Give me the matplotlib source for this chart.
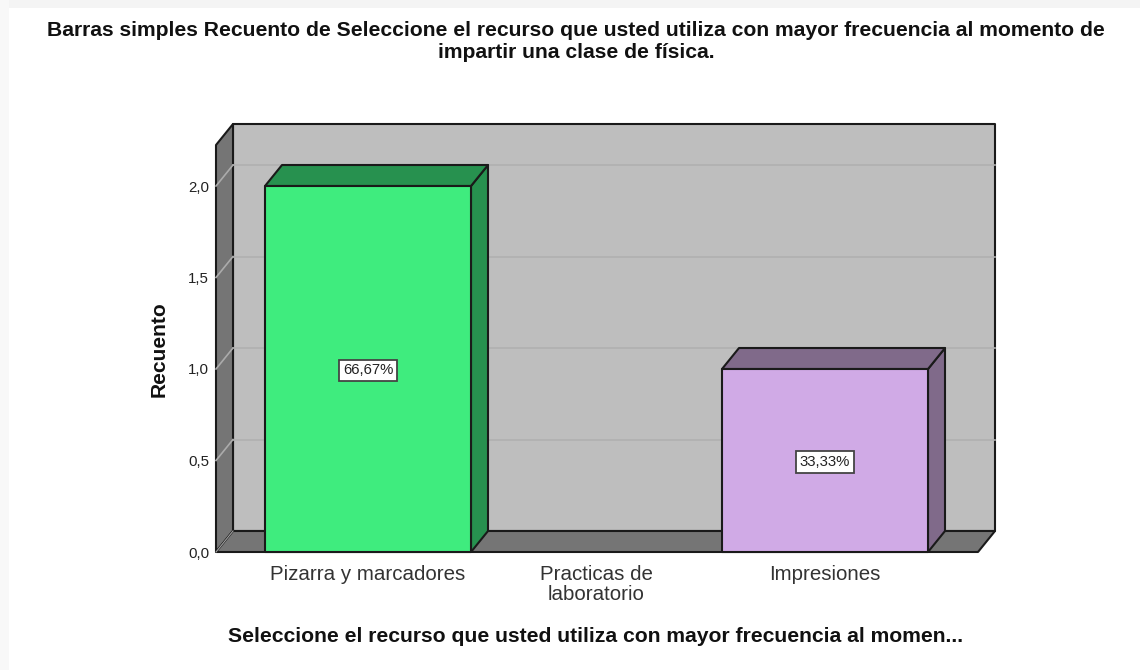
import matplotlib
matplotlib.use('Agg')
import matplotlib.pyplot as plt
from matplotlib.patches import Polygon, Rectangle

plt.rcParams['font.family'] = ['Liberation Sans', 'DejaVu Sans']

categories = ['Pizarra y marcadores', 'Practicas de\nlaboratorio', 'Impresiones']
counts = [2, 0, 1]
percent_labels = ['66,67%', '', '33,33%']
y_ticks = [0.0, 0.5, 1.0, 1.5, 2.0]
y_tick_labels = ['0,0', '0,5', '1,0', '1,5', '2,0']
bar_colors = ['#3FEC7E', None, '#D0AAE6']
side_colors = ['#27914F', None, '#806A8A']

title = ('Barras simples Recuento de Seleccione el recurso que usted utiliza con mayor frecuencia al momento de\n'
         'impartir una clase de física.')
x_title = 'Seleccione el recurso que usted utiliza con mayor frecuencia al momen...'

W, H = 1140, 670
fig = plt.figure(figsize=(W / 100, H / 100), dpi=100, facecolor='white')

# pale window edge along the top and left of the screenshot
fig.patches.append(Rectangle((0, 1 - 8 / H), 1, 8 / H, transform=fig.transFigure, fc='#F4F4F4', ec='none'))
fig.patches.append(Rectangle((0, 0), 9 / W, 1, transform=fig.transFigure, fc='#F8F8F8', ec='none'))

# axes = front plane of the fake 3D box
left, right, bottom, top = 216, 978, 552, 145
ax = fig.add_axes([left / W, 1 - bottom / H, (right - left) / W, (bottom - top) / H])
px_per_cat = 228.5
px_per_unit = 183.0
xmin = -(368 - left) / px_per_cat
xmax = xmin + (right - left) / px_per_cat
ymax = (bottom - top) / px_per_unit
ax.set_xlim(xmin, xmax)
ax.set_ylim(0, ymax)
dx = 17 / px_per_cat
dy = 21 / px_per_unit
bar_w = 206 / px_per_cat
edge = '#1A1A1A'


def poly(pts, fc, ec=edge, lw=1.5, z=1):
    ax.add_patch(Polygon(pts, closed=True, fc=fc, ec=ec, lw=lw, zorder=z, clip_on=False, joinstyle='round'))


# walls and floor
poly([(xmin + dx, dy), (xmax + dx, dy), (xmax + dx, ymax + dy), (xmin + dx, ymax + dy)], '#BEBEBE')
poly([(xmin, 0), (xmin + dx, dy), (xmin + dx, ymax + dy), (xmin, ymax)], '#757575')
poly([(xmin, 0), (xmax, 0), (xmax + dx, dy), (xmin + dx, dy)], '#757575', z=1.5)

# gridlines run across the back wall and down the side wall
for v in y_ticks:
    if v > 0:
        ax.plot([xmin + dx, xmax + dx], [v + dy, v + dy], color='#B0B0B0', lw=1.2, zorder=2, clip_on=False)
        ax.plot([xmin, xmin + dx], [v, v + dy], color='#ABABAB', lw=1.2, zorder=2, clip_on=False)
ax.plot([xmin, xmin + dx], [0, dy], color='#A0A0A0', lw=0.8, zorder=2, clip_on=False)

# bars
for i, c in enumerate(counts):
    if c == 0:
        continue
    x0, x1 = i - bar_w / 2, i + bar_w / 2
    poly([(x1, 0), (x1 + dx, dy), (x1 + dx, c + dy), (x1, c)], side_colors[i], z=3)
    poly([(x0, c), (x1, c), (x1 + dx, c + dy), (x0 + dx, c + dy)], side_colors[i], z=3)
    poly([(x0, 0), (x1, 0), (x1, c), (x0, c)], bar_colors[i], z=4)
    ax.text(i, c / 2, percent_labels[i], ha='center', va='center_baseline', fontsize=10.7, color='#222222', zorder=5,
            bbox=dict(boxstyle='square,pad=0.25', fc='white', ec='#444444', lw=1.3))

ax.set_xticks(range(len(categories)))
ax.set_xticklabels(categories, fontsize=14.8, color='#333333', linespacing=1.08)
ax.set_yticks(y_ticks)
ax.set_yticklabels(y_tick_labels, fontsize=10.8, color='#222222')
ax.tick_params(length=0, axis='x', pad=9.5)
ax.tick_params(length=0, axis='y', pad=5)
for s in ax.spines.values():
    s.set_visible(False)

fig.text(576 / W, 1 - 31 / H, title.split('\n')[0], ha='center', va='center', fontsize=15.2, fontweight='bold', color='#111111')
fig.text(576 / W, 1 - 52 / H, title.split('\n')[1], ha='center', va='center', fontsize=15.2, fontweight='bold', color='#111111')
fig.text(159 / W, 1 - 349 / H, 'Recuento', rotation=90, ha='center', va='center', fontsize=15.1, fontweight='bold', color='#111111')
fig.text(595.5 / W, 1 - 637 / H, x_title, ha='center', va='center', fontsize=15.2, fontweight='bold', color='#111111')

fig.savefig('out.png', dpi=100, facecolor=fig.get_facecolor())
plt.close(fig)
